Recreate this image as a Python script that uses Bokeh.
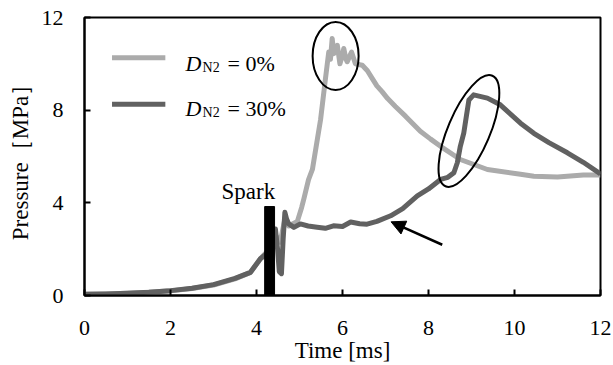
import math
from bokeh.plotting import figure
from bokeh.models import Arrow, NormalHead, FixedTicker
from bokeh.core.properties import value
from bokeh.embed import file_html
from bokeh.resources import INLINE

# ---- data ----
t_0 = [0.0, 0.5, 1.0, 1.5, 2.0, 2.5, 3.0, 3.5, 3.86, 4.09, 4.2, 4.3, 4.44, 4.55,
       4.65, 4.75, 4.85, 4.95, 5.05, 5.1, 5.21, 5.3, 5.49, 5.6, 5.68, 5.72, 5.76,
       5.8, 5.84, 5.88, 5.94, 6.0, 6.03, 6.08, 6.11, 6.16, 6.21, 6.3, 6.46, 6.58,
       6.69, 6.8, 6.92, 7.05, 7.23, 7.47, 7.81, 8.05, 8.28, 8.74, 9.37, 10.14,
       10.45, 11.0, 11.6, 12.0]
p_0 = [0.05, 0.07, 0.1, 0.14, 0.2, 0.3, 0.45, 0.72, 1.0, 1.59, 1.8, 2.0, 2.6, 2.3,
       3.2, 3.0, 3.1, 3.2, 3.8, 4.16, 5.0, 5.44, 7.59, 9.3, 10.51, 10.2, 11.09,
       10.44, 10.7, 10.8, 10.0, 10.4, 10.66, 10.2, 10.09, 10.3, 10.51, 10.0, 9.94,
       9.7, 9.37, 9.05, 8.8, 8.5, 8.16, 7.73, 7.09, 6.75, 6.44, 5.87, 5.44, 5.23,
       5.15, 5.12, 5.2, 5.2]

t_30 = [0.0, 0.5, 1.0, 1.5, 2.0, 2.5, 3.0, 3.5, 3.86, 4.09, 4.2, 4.3, 4.44, 4.49,
        4.53, 4.58, 4.62, 4.66, 4.7, 4.75, 4.87, 5.02, 5.2, 5.41, 5.6, 5.79, 6.0,
        6.19, 6.4, 6.57, 6.8, 7.12, 7.4, 7.74, 8.0, 8.28, 8.45, 8.59, 8.67, 8.74,
        8.82, 8.88, 8.94, 9.05, 9.37, 9.67, 10.14, 10.45, 10.8, 11.23, 11.6, 12.0]
p_30 = [0.05, 0.07, 0.1, 0.14, 0.21, 0.31, 0.47, 0.74, 1.0, 1.59, 1.75, 2.0, 2.87,
        2.0, 1.03, 0.94, 2.44, 3.59, 3.3, 3.09, 2.94, 3.09, 3.0, 2.95, 2.9, 3.01,
        2.98, 3.17, 3.1, 3.08, 3.2, 3.44, 3.75, 4.3, 4.6, 5.01, 5.1, 5.3, 5.73,
        6.44, 7.01, 7.73, 8.44, 8.66, 8.52, 8.23, 7.44, 7.0, 6.6, 6.16, 5.75, 5.25]

x_ticks = [0, 2, 4, 6, 8, 10, 12]
y_ticks = [0, 4, 8, 12]

series_labels = ["= 0%", "= 30%"]
legend_y = [10.26, 8.26]
legend_text_y = [10.02, 8.09]
legend_x = [0.64, 1.88]
legend_text_x = 2.35

spark_left, spark_right, spark_top = 4.19, 4.42, 3.84
spark_label = "Spark"
spark_label_xy = (3.81, 4.47)

ellipse_x = [5.84, 8.94]
ellipse_y = [10.34, 7.1]
ellipse_w = [46, 120]
ellipse_h = [68, 42]
ellipse_angle = [0.0, math.radians(67)]

arrow_start = (8.32, 2.19)
arrow_end = (7.13, 3.18)

LIGHT = "#ababab"
DARK = "#616161"
FONT = "Liberation Serif"

p = figure(width=613, height=365, x_range=(0, 12), y_range=(0, 12),
           output_backend="svg", toolbar_location=None,
           min_border_left=84, min_border_right=13, min_border_top=17,
           min_border_bottom=68)
p.grid.visible = False
p.background_fill_color = "white"
p.border_fill_color = "white"
p.outline_line_color = "black"
p.outline_line_width = 2

for ax in (p.xaxis, p.yaxis):
    ax.axis_line_width = 2
    ax.axis_line_color = "black"
    ax.major_tick_in = 6
    ax.major_tick_out = 0
    ax.major_tick_line_width = 2
    ax.minor_tick_line_color = None
    ax.major_label_text_font = FONT
    ax.major_label_text_font_size = "22px"
    ax.major_label_text_color = "black"
    ax.axis_label_text_font = FONT
    ax.axis_label_text_font_size = "23px"
    ax.axis_label_text_font_style = "normal"
    ax.axis_label_text_color = "black"

p.xaxis.ticker = FixedTicker(ticks=x_ticks)
p.yaxis.ticker = FixedTicker(ticks=y_ticks)
p.xaxis.axis_label = "Time [ms]"
p.yaxis.axis_label = "Pressure［MPa］"
p.xaxis.major_label_standoff = 25
p.yaxis.major_label_standoff = 21
p.xaxis.axis_label_standoff = 0
p.yaxis.axis_label_standoff = 6

# curves
p.line(t_0, p_0, line_color=LIGHT, line_width=5, line_join="round")
p.line(t_30, p_30, line_color=DARK, line_width=5, line_join="round")

# spark bar
p.quad(left=[spark_left], right=[spark_right], bottom=[0], top=[spark_top],
       fill_color="black", line_color="black")
p.text(x=[spark_label_xy[0]], y=[spark_label_xy[1]], text=[spark_label],
       text_font=value(FONT), text_font_size="23px", text_align="center",
       text_baseline="alphabetic", text_color="black")

# ellipses
p.ellipse(x=ellipse_x, y=ellipse_y, width=ellipse_w, height=ellipse_h,
          width_units="screen", height_units="screen", angle=ellipse_angle,
          fill_alpha=0, line_color="black", line_width=2)

# arrow
p.add_layout(Arrow(end=NormalHead(size=14, fill_color="black", line_color="black"),
                   x_start=arrow_start[0], y_start=arrow_start[1],
                   x_end=arrow_end[0], y_end=arrow_end[1],
                   line_color="black", line_width=2.5))

# manual legend
for col, ly, ty, lab in zip([LIGHT, DARK], legend_y, legend_text_y, series_labels):
    p.line(legend_x, [ly, ly], line_color=col, line_width=5)
    p.text(x=[legend_text_x], y=[ty], text=["D"], text_font=value(FONT),
           text_font_style="italic", text_font_size="22px",
           text_baseline="alphabetic", text_color="black")
    p.text(x=[legend_text_x], y=[ty], text=["N2"], text_font=value(FONT),
           text_font_size="14px", x_offset=17, y_offset=4,
           text_baseline="alphabetic", text_color="black")
    p.text(x=[legend_text_x], y=[ty], text=[lab], text_font=value(FONT),
           text_font_size="22px", x_offset=42,
           text_baseline="alphabetic", text_color="black")

open("out.html", "w").write(file_html(p, INLINE))
